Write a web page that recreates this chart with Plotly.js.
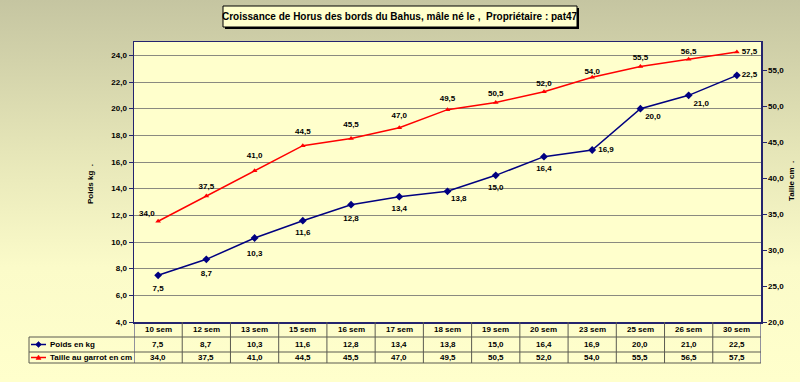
<!DOCTYPE html>
<html>
<head>
<meta charset="utf-8">
<script src="https://cdn.plot.ly/plotly-3.0.1.min.js"></script>
<style>
  html, body { margin: 0; padding: 0; }
  body { width: 800px; height: 382px; overflow: hidden;
         background: linear-gradient(to bottom, #c5c5a1 0%, #e6e6b8 40%, #fbfbc9 70%, #ffffcc 100%); }
  #chart { width: 800px; height: 382px; }
</style>
</head>
<body>
<div id="chart"></div>
<script>
const categories = ['10 sem','12 sem','13 sem','15 sem','16 sem','17 sem','18 sem','19 sem','20 sem','23 sem','25 sem','26 sem','30 sem'];
const poids = [7.5, 8.7, 10.3, 11.6, 12.8, 13.4, 13.8, 15.0, 16.4, 16.9, 20.0, 21.0, 22.5];
const taille = [34.0, 37.5, 41.0, 44.5, 45.5, 47.0, 49.5, 50.5, 52.0, 54.0, 55.5, 56.5, 57.5];
const seriesNames = ['Poids en kg', 'Taille au garrot en cm'];
const titleText = 'Croissance de Horus des bords du Bahus, mâle né le ,  Propriétaire : pat47';
const leftAxisTitle = 'Poids kg  .';
const rightAxisTitle = 'Taille cm  .';

// label placement (style only): position and spacing from the point
const poidsPos = ['bottom center','bottom center','bottom center','bottom center','bottom center','bottom center','bottom right','bottom center','bottom center','middle right','bottom right','bottom right','middle right'];
const poidsGap = [14, 15, 18, 12, 15, 11, 4, 12, 11.5, 8, 6, 6, 6];
const taillePos = ['top left','top center','top center','top center','top center','top center','top center','top center','top center','top center','top center','top center','middle right'];
const tailleGap = [4, 6, 16, 14, 13, 11, 9, 5, 5, 1, 6, 3, 6];

const FONT = 'Arial, "Liberation Sans", sans-serif';
const fmt = v => v.toFixed(1).replace('.', ',');

const navy = '#000080';
const red = '#ff0000';
const axisCol = '#24246e';
const tableCol = '#5a5a50';
const labelFont = { family: FONT, size: 8, color: '#000', weight: 'bold' };

const traces = [
  { x: categories, y: poids, type: 'scatter', mode: 'markers+text', hoverinfo: 'skip',
    marker: { size: poidsGap, color: 'rgba(0,0,0,0)', line: { width: 0 } }, text: poids.map(fmt), textposition: poidsPos,
    textfont: labelFont, cliponaxis: false, yaxis: 'y' },
  { x: categories, y: taille, type: 'scatter', mode: 'markers+text', hoverinfo: 'skip',
    marker: { size: tailleGap, color: 'rgba(0,0,0,0)', line: { width: 0 } }, text: taille.map(fmt), textposition: taillePos,
    textfont: labelFont, cliponaxis: false, yaxis: 'y2' },
  { x: categories, y: poids, name: seriesNames[0], type: 'scatter', mode: 'lines+markers',
    line: { color: navy, width: 1.5 }, marker: { symbol: 'diamond', size: 6, color: navy, line: { width: 0 } }, yaxis: 'y' },
  { x: categories, y: taille, name: seriesNames[1], type: 'scatter', mode: 'lines+markers',
    line: { color: red, width: 1.5 }, marker: { symbol: 'triangle-up', size: 5, color: red, line: { width: 0 } }, yaxis: 'y2' }
];

const H = 280, W = 627;
const py = p => (322 - p) / H;
const px = p => (p - 134) / W;
const yHeaderBot = py(337), yRow1Bot = py(352), yRow2Bot = py(363);
const xLeftTable = px(29);

const shapes = [];
shapes.push({ type: 'rect', xref: 'paper', yref: 'paper', x0: px(225), x1: px(579), y0: py(8), y1: py(29),
  fillcolor: '#000', line: { width: 0 } });
shapes.push({ type: 'rect', xref: 'paper', yref: 'paper', x0: px(223), x1: px(577), y0: py(6), y1: py(27),
  fillcolor: '#ffffcc', line: { color: '#000', width: 1 } });
for (let i = 0; i <= categories.length; i++) {
  shapes.push({ type: 'line', xref: 'x', yref: 'paper', x0: i - 0.5, x1: i - 0.5, y0: 0, y1: yRow2Bot,
    line: { color: (i === 0 || i === categories.length) ? axisCol : tableCol, width: 1 } });
}
shapes.push({ type: 'line', xref: 'paper', yref: 'paper', x0: xLeftTable, x1: xLeftTable, y0: yHeaderBot, y1: yRow2Bot,
  line: { color: tableCol, width: 1 } });
[yHeaderBot, yRow1Bot, yRow2Bot].forEach(yy => {
  shapes.push({ type: 'line', xref: 'paper', yref: 'paper', x0: xLeftTable, x1: 1, y0: yy, y1: yy,
    line: { color: tableCol, width: 1 } });
});
const row1c = py(344.5), row2c = py(357.5);
shapes.push({ type: 'line', xref: 'paper', yref: 'paper', x0: px(31), x1: px(46), y0: row1c, y1: row1c, line: { color: navy, width: 1.5 } });
shapes.push({ type: 'path', xref: 'paper', yref: 'paper', xsizemode: 'pixel', ysizemode: 'pixel',
  xanchor: px(38.5), yanchor: row1c, path: 'M -3 0 L 0 3 L 3 0 L 0 -3 Z', fillcolor: navy, line: { color: navy, width: 0.5 } });
shapes.push({ type: 'line', xref: 'paper', yref: 'paper', x0: px(31), x1: px(46), y0: row2c, y1: row2c, line: { color: red, width: 1.5 } });
shapes.push({ type: 'path', xref: 'paper', yref: 'paper', xsizemode: 'pixel', ysizemode: 'pixel',
  xanchor: px(38.5), yanchor: row2c, path: 'M -2.5 -2 L 2.5 -2 L 0 2.5 Z', fillcolor: red, line: { color: red, width: 0.5 } });

const annotations = [];
annotations.push({ text: '<b>' + titleText + '</b>', xref: 'paper', yref: 'paper', x: px(400), y: py(16.5),
  xanchor: 'center', yanchor: 'middle', showarrow: false, font: { family: FONT, size: 10, color: '#000' } });
annotations.push({ text: '<b>' + leftAxisTitle + '</b>', xref: 'paper', yref: 'paper', x: px(90), y: py(184),
  textangle: -90, xanchor: 'center', yanchor: 'middle', showarrow: false, font: { family: FONT, size: 8, color: '#000' } });
annotations.push({ text: '<b>' + rightAxisTitle + '</b>', xref: 'paper', yref: 'paper', x: px(791), y: py(181),
  textangle: -90, xanchor: 'center', yanchor: 'middle', showarrow: false, font: { family: FONT, size: 8, color: '#000' } });
annotations.push({ text: '<b>' + seriesNames[0] + '</b>', xref: 'paper', yref: 'paper', x: px(47.5), y: row1c,
  xanchor: 'left', yanchor: 'middle', showarrow: false, font: { family: FONT, size: 8, color: '#000' } });
annotations.push({ text: '<b>' + seriesNames[1] + '</b>', xref: 'paper', yref: 'paper', x: px(47.5), y: row2c,
  xanchor: 'left', yanchor: 'middle', showarrow: false, font: { family: FONT, size: 8, color: '#000' } });
categories.forEach((c, i) => {
  annotations.push({ text: '<b>' + c + '</b>', xref: 'x', yref: 'paper', x: c, y: py(329.5), xanchor: 'center', yanchor: 'middle',
    showarrow: false, font: { family: FONT, size: 8, color: '#000' } });
  annotations.push({ text: '<b>' + fmt(poids[i]) + '</b>', xref: 'x', yref: 'paper', x: c, y: row1c, xanchor: 'center', yanchor: 'middle',
    showarrow: false, font: { family: FONT, size: 8, color: '#000' } });
  annotations.push({ text: '<b>' + fmt(taille[i]) + '</b>', xref: 'x', yref: 'paper', x: c, y: row2c, xanchor: 'center', yanchor: 'middle',
    showarrow: false, font: { family: FONT, size: 8, color: '#000' } });
});

const layout = {
  width: 800, height: 382,
  margin: { l: 134, r: 39, t: 42, b: 60, pad: 0 },
  paper_bgcolor: 'rgba(0,0,0,0)',
  plot_bgcolor: '#ffffcc',
  separators: ', ',
  showlegend: false,
  font: { family: FONT, size: 8, color: '#000' },
  xaxis: { type: 'category', range: [-0.5, categories.length - 0.5], showticklabels: false, ticks: '',
    showgrid: false, zeroline: false, showline: true, mirror: true, linecolor: axisCol, linewidth: 1.5, fixedrange: true },
  yaxis: { range: [4, 25], tick0: 4, dtick: 2, tickformat: '.1f', ticks: 'outside', ticklen: 4, tickcolor: axisCol,
    showgrid: true, gridcolor: '#8a8a80', gridwidth: 1, zeroline: false, showline: true, linecolor: axisCol, linewidth: 1.5,
    tickfont: { family: FONT, size: 8, color: '#000', weight: 'bold' } },
  yaxis2: { overlaying: 'y', side: 'right', range: [20, 58.9], tick0: 20, dtick: 5, tickformat: '.1f', ticks: 'outside', ticklen: 4,
    tickcolor: axisCol, showgrid: false, zeroline: false, showline: true, linecolor: axisCol, linewidth: 1.5,
    tickfont: { family: FONT, size: 8, color: '#000', weight: 'bold' } },
  shapes: shapes,
  annotations: annotations
};

Plotly.newPlot('chart', traces, layout, { displayModeBar: false, staticPlot: true });
</script>
</body>
</html>
